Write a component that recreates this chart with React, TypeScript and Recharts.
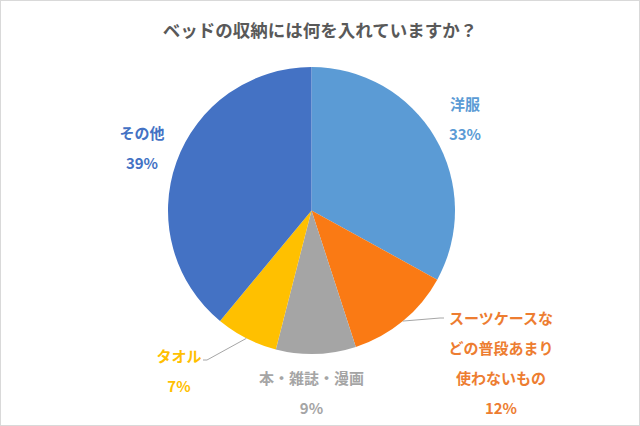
import { Cell, Pie, PieChart } from 'recharts';

const categories = ['洋服', 'スーツケースなどの普段あまり使わないもの', '本・雑誌・漫画', 'タオル', 'その他'];
const shares = [33, 12, 9, 7, 39];
const sliceColors = ['#5B9BD5', '#FA7A14', '#A5A5A5', '#FFC000', '#4472C4'];
const labelColors = ['#5B9BD5', '#ED7D31', '#A5A5A5', '#FFC000', '#4472C4'];

// label placement relative to pie centre (Excel placed them by hand)
const labelSpots = [
  { dx: 153.5, dy: -107.5 },
  { dx: 189.5, dy: 106.5, lx: 128.5, ly: 107.5 },
  { dx: 0, dy: 166.5 },
  { dx: -132.5, dy: 144.5, lx: -104.5, ly: 149.5 },
  { dx: -169.5, dy: -78.5 },
];

const chartData = categories.map((name, i) => ({ name, value: shares[i] }));

const RAD = Math.PI / 180;
const FONT = '"Noto Sans CJK JP", "Noto Sans", sans-serif';

function wrap(text: string, n: number) {
  const out: string[] = [];
  for (let i = 0; i < text.length; i += n) out.push(text.slice(i, i + n));
  return out;
}

function renderLabel(props: any) {
  const { cx, cy, midAngle, outerRadius, index } = props;
  const spot = labelSpots[index];
  const x = cx + spot.dx;
  const y = cy + spot.dy;
  const lines = [...wrap(categories[index], 7), `${shares[index]}%`];
  const ex = cx + outerRadius * Math.cos(-midAngle * RAD);
  const ey = cy + outerRadius * Math.sin(-midAngle * RAD);
  return (
    <g key={`lbl-${index}`}>
      {spot.lx !== undefined && (
        <polyline
          points={`${ex},${ey} ${cx + spot.lx},${cy + spot.ly} ${cx + spot.lx + (spot.lx > 0 ? 4 : -4)},${cy + spot.ly}`}
          fill="none"
          stroke="#A6A6A6"
          strokeWidth={1}
        />
      )}
      {lines.map((t, i) => (
        <text
          key={i}
          x={x}
          y={y + i * 30}
          textAnchor="middle"
          dominantBaseline="central"
          fill={labelColors[index]}
          fontSize={15}
          fontWeight="bold"
          fontFamily={FONT}
        >
          {t}
        </text>
      ))}
    </g>
  );
}

export default function App() {
  return (
    <div
      style={{
        position: 'absolute',
        left: 0,
        top: 0,
        width: 640,
        height: 426,
        boxSizing: 'border-box',
        border: '1px solid #D9D9D9',
        background: '#fff',
      }}
    >
      <div
        style={{
          position: 'absolute',
          top: 17,
          width: '100%',
          textAlign: 'center',
          fontFamily: FONT,
          fontSize: 17.5,
          fontWeight: 'bold',
          color: '#595959',
          lineHeight: '24px',
        }}
      >
        ベッドの収納には何を入れていますか？
      </div>
      <div style={{ position: 'absolute', left: -1, top: -1 }}>
        <PieChart width={640} height={426} margin={{ top: 0, right: 0, bottom: 0, left: 0 }}>
          <Pie
            data={chartData}
            dataKey="value"
            nameKey="name"
            cx={311.5}
            cy={210.5}
            outerRadius={143.5}
            startAngle={90}
            endAngle={-270}
            stroke="none"
            labelLine={false}
            label={renderLabel}
            isAnimationActive={false}
          >
            {chartData.map((entry, i) => (
              <Cell key={entry.name} fill={sliceColors[i]} />
            ))}
          </Pie>
        </PieChart>
      </div>
    </div>
  );
}
